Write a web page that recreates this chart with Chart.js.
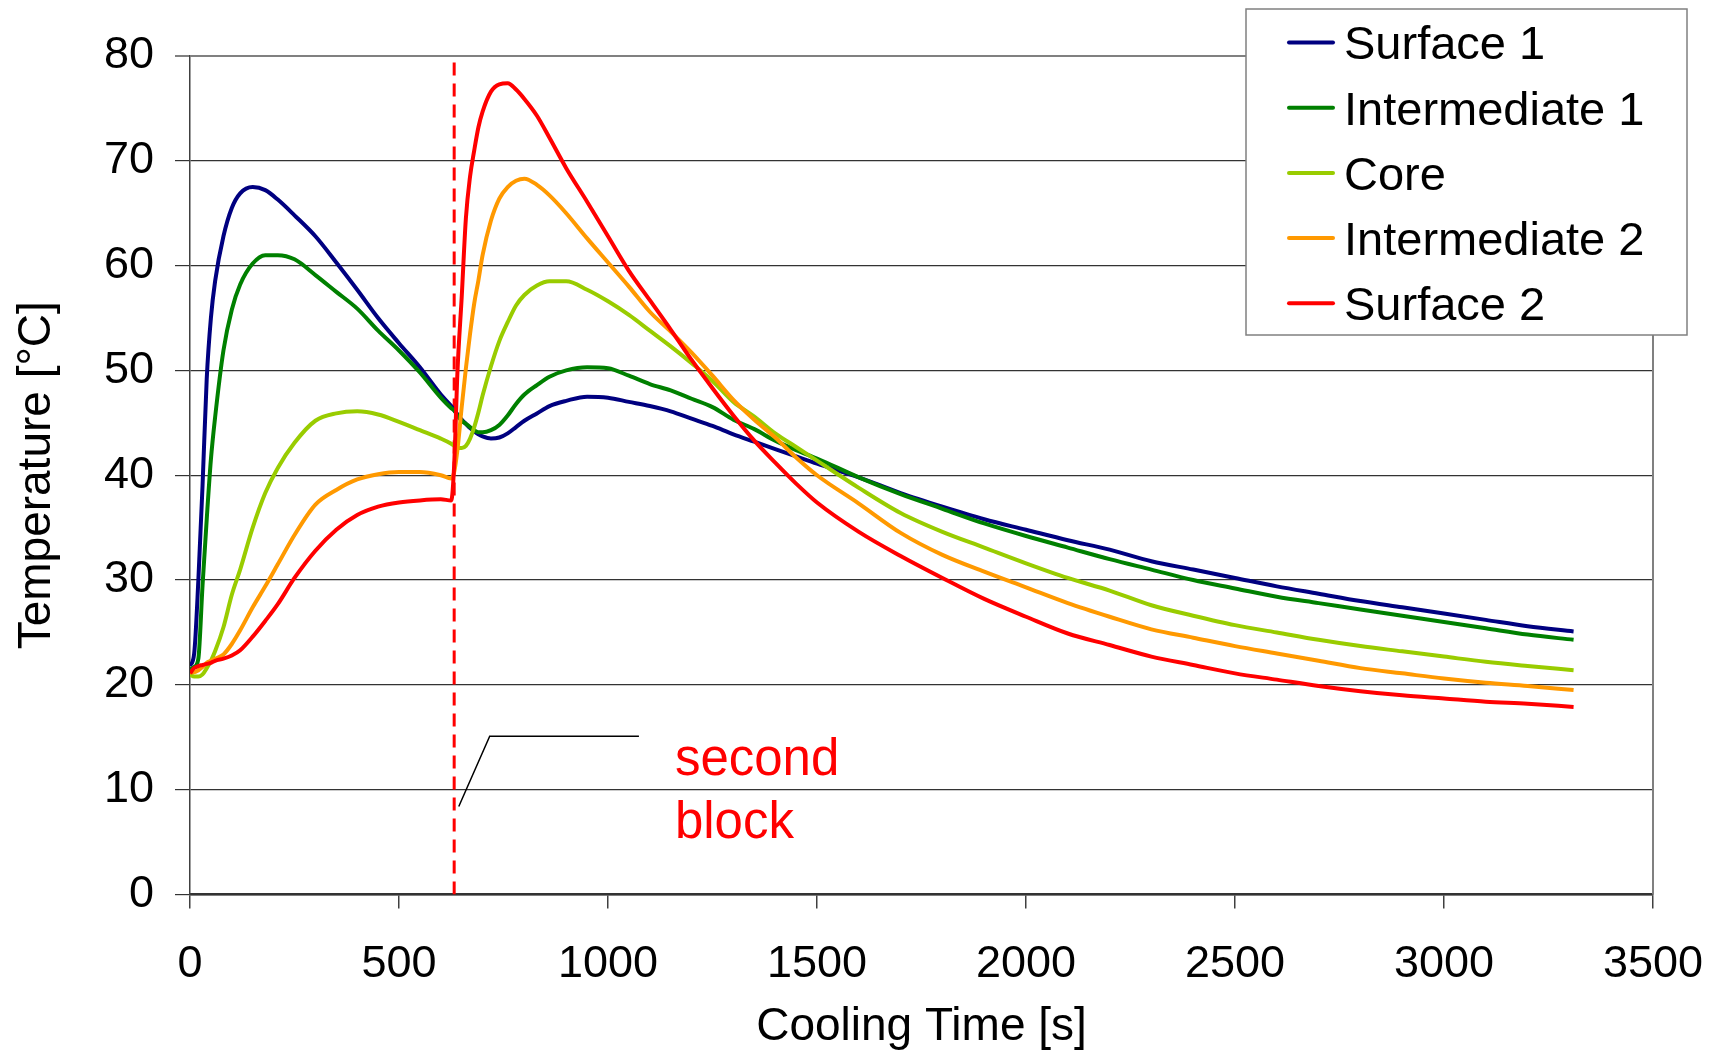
<!DOCTYPE html>
<html>
<head>
<meta charset="utf-8">
<script src="https://cdn.jsdelivr.net/npm/chart.js@4.4.6/dist/chart.umd.min.js"></script>
<style>
  html, body { margin: 0; padding: 0; background: #fff; }
  #chart { display: block; }
</style>
</head>
<body>
<canvas id="chart" width="1721" height="1050"></canvas>
<script>
// ---------------------------------------------------------------------------
// Data (time in s, temperature in °C)
// ---------------------------------------------------------------------------
const times = [0, 10, 20, 30, 40, 50, 60, 80, 100, 120, 150, 180, 210, 250,
  300, 350, 400, 450, 500, 550, 600, 625, 632, 640, 650, 660, 670, 680, 690, 700,
  720, 740, 760, 780, 800, 830, 860, 900, 950, 1000, 1050, 1100, 1150, 1200, 1250,
  1300, 1350, 1400, 1450, 1500, 1600, 1700, 1800, 1900, 2000, 2100, 2200, 2300,
  2400, 2500, 2600, 2700, 2800, 2900, 3000, 3100, 3200, 3310]

const surface1 = [21.8, 23, 30, 39, 49.2, 55, 58.5, 62.8, 65.5, 66.9, 67.5, 67.2, 66.3, 64.8,
  62.8, 60.3, 57.7, 55.0, 52.6, 50.3, 47.7, 46.6, 46.2, 45.8, 45.3, 44.9, 44.5, 44.2, 43.9, 43.7,
  43.5, 43.6, 44.0, 44.6, 45.2, 45.9, 46.6, 47.1, 47.5, 47.4, 47.0, 46.6, 46.1, 45.4, 44.7,
  43.9, 43.2, 42.5, 41.8, 41.1, 39.8, 38.3, 37.0, 35.8, 34.8, 33.8, 32.9, 31.8,
  31.0, 30.2, 29.4, 28.7, 28.0, 27.4, 26.8, 26.2, 25.6, 25.1]

const intermediate1 = [21.5, 21.7, 22.5, 29.5, 35.8, 41.5, 45.5, 51.9, 55.8, 58.2, 60.2, 61.0, 61.0, 60.6,
  59.1, 57.5, 55.9, 53.8, 51.9, 49.8, 47.4, 46.4, 46.2, 45.7, 45.2, 44.9, 44.6, 44.3, 44.1, 44.1,
  44.3, 44.8, 45.7, 46.8, 47.7, 48.6, 49.4, 50.0, 50.3, 50.2, 49.5, 48.7, 48.1, 47.3, 46.5,
  45.3, 44.4, 43.3, 42.4, 41.6, 39.8, 38.2, 36.8, 35.4, 34.2, 33.1, 32.0, 31.0,
  30.0, 29.2, 28.4, 27.8, 27.2, 26.6, 26.0, 25.4, 24.8, 24.3]

const core = [21.0, 20.8, 20.8, 21.0, 21.6, 22.3, 23.2, 25.5, 28.6, 31.0, 35.0, 38.3, 40.7, 43.1,
  45.2, 45.9, 46.1, 45.8, 45.1, 44.3, 43.5, 43.0, 42.8, 42.6, 42.6, 42.8, 43.5, 44.6, 46.0, 47.6,
  50.4, 52.8, 54.6, 56.2, 57.2, 58.1, 58.5, 58.5, 57.7, 56.6, 55.3, 53.8, 52.3, 50.7, 49.0,
  47.0, 45.6, 44.0, 42.7, 41.4, 38.8, 36.4, 34.6, 33.1, 31.6, 30.2, 29.0, 27.6,
  26.6, 25.7, 25.0, 24.3, 23.7, 23.2, 22.7, 22.2, 21.8, 21.4]

const intermediate2 = [21.2, 21.2, 21.4, 21.7, 22.1, 22.3, 22.5, 22.9, 23.9, 25.2, 27.4, 29.4, 31.5, 34.3,
  37.2, 38.6, 39.6, 40.1, 40.3, 40.3, 40.0, 39.7, 40.3, 42.5, 46.5, 50.2, 53.5, 56.4, 58.6, 61.0,
  64.3, 66.4, 67.5, 68.1, 68.3, 67.7, 66.7, 65.0, 62.6, 60.3, 58.0, 55.6, 53.7, 51.7, 49.5,
  47.2, 45.3, 43.6, 41.7, 40.0, 37.3, 34.5, 32.4, 30.8, 29.3, 27.8, 26.5, 25.3,
  24.5, 23.7, 23.0, 22.3, 21.6, 21.1, 20.6, 20.2, 19.9, 19.5]

const surface2 = [21.1, 21.6, 21.8, 21.9, 22.0, 22.1, 22.3, 22.5, 22.8, 23.3, 24.6, 26.1, 27.7, 30.2,
  32.8, 34.8, 36.2, 37.0, 37.4, 37.6, 37.7, 37.6, 41.0, 50.0, 57.0, 64.5, 68.5, 71.0, 73.2, 74.7,
  76.6, 77.3, 77.4, 76.8, 75.9, 74.3, 72.2, 69.3, 66.1, 62.8, 59.5, 56.7, 53.9, 51.0, 48.3,
  45.7, 43.3, 41.2, 39.2, 37.4, 34.6, 32.3, 30.2, 28.2, 26.5, 24.9, 23.8, 22.7,
  21.9, 21.1, 20.5, 19.9, 19.4, 19.0, 18.7, 18.4, 18.2, 17.9]

const seriesNames = ['Surface 1', 'Intermediate 1', 'Core', 'Intermediate 2', 'Surface 2']
const seriesColors = ['#000080', '#008000', '#99CC00', '#FF9900', '#FF0000']

// second block marker + annotation
const secondBlockTime = 632
const calloutX = [643, 717, 1074]
const calloutY = [8.4, 15.1, 15.1]
const calloutText = ['second', 'block']
const calloutTextPos = { x: 1160, y: [11.4, 5.4] }

const xTicks = { min: 0, max: 3500, step: 500 }
const yTicks = { min: 0, max: 80, step: 10 }

// ---------------------------------------------------------------------------
const FONT = '"Liberation Sans", Arial, sans-serif'
const allSeries = [surface1, intermediate1, core, intermediate2, surface2]

const curveSets = allSeries.map((vals, i) => ({
  label: seriesNames[i],
  data: times.map((t, k) => ({ x: t, y: vals[k] })),
  borderColor: seriesColors[i],
  backgroundColor: seriesColors[i],
  borderWidth: 4,
  pointRadius: 0,
  cubicInterpolationMode: 'monotone',
  order: 5 - i
}))

const markerSet = {
  label: '_marker',
  data: [{ x: secondBlockTime, y: yTicks.min }, { x: secondBlockTime, y: yTicks.max }],
  borderColor: '#FF0000',
  borderWidth: 3,
  borderDash: [13, 8],
  pointRadius: 0,
  order: 10
}

const calloutSet = {
  label: '_callout',
  data: calloutX.map((x, i) => ({ x, y: calloutY[i] })),
  borderColor: '#000',
  borderWidth: 1.5,
  pointRadius: 0,
  tension: 0,
  order: 9
}

// frame + legend + annotation text
const decorations = {
  id: 'decorations',
  beforeDatasetsDraw (chart) {
    const { ctx, chartArea: a } = chart
    ctx.save()
    ctx.strokeStyle = '#808080'
    ctx.lineWidth = 2
    ctx.beginPath()
    ctx.moveTo(a.right, a.top)
    ctx.lineTo(a.right, a.bottom)
    ctx.stroke()
    ctx.restore()
  },
  afterDraw (chart) {
    const { ctx, scales } = chart
    ctx.save()
    // annotation text
    ctx.fillStyle = '#FF0000'
    ctx.font = '51px ' + FONT
    ctx.textBaseline = 'alphabetic'
    ctx.textAlign = 'left'
    calloutText.forEach((s, i) => {
      ctx.fillText(s, scales.x.getPixelForValue(calloutTextPos.x), scales.y.getPixelForValue(calloutTextPos.y[i]))
    })
    // legend box
    const bx = 1246, by = 9, bw = 441, bh = 326
    ctx.fillStyle = '#fff'
    ctx.fillRect(bx, by, bw, bh)
    ctx.strokeStyle = '#808080'
    ctx.lineWidth = 1.5
    ctx.strokeRect(bx, by, bw, bh)
    ctx.font = '47px ' + FONT
    ctx.textBaseline = 'middle'
    ctx.lineCap = 'round'
    curveSets.forEach((ds, i) => {
      const y = 42.5 + i * 65.2
      ctx.strokeStyle = ds.borderColor
      ctx.lineWidth = 4
      ctx.beginPath()
      ctx.moveTo(1289, y)
      ctx.lineTo(1333, y)
      ctx.stroke()
      ctx.fillStyle = '#000'
      ctx.fillText(ds.label, 1344, y + 4)
    })
    ctx.restore()
  }
}

new Chart(document.getElementById('chart'), {
  type: 'line',
  data: { datasets: [...curveSets, markerSet, calloutSet] },
  plugins: [decorations],
  options: {
    responsive: false,
    animation: false,
    devicePixelRatio: 1,
    layout: { padding: { top: 56, right: 68, left: 0, bottom: 0 } },
    plugins: { legend: { display: false }, tooltip: { enabled: false } },
    scales: {
      x: {
        type: 'linear',
        min: xTicks.min,
        max: xTicks.max,
        afterFit: s => { s.height = 155.5; s.paddingLeft = 0; s.paddingRight = 0 },
        ticks: { stepSize: xTicks.step, color: '#000', font: { family: FONT, size: 45 }, padding: 29, maxRotation: 0, callback: v => String(v) },
        grid: { drawOnChartArea: false, drawTicks: true, tickLength: 14, color: '#404040', lineWidth: 1.5 },
        border: { display: true, color: '#333', width: 2.5 },
        title: { display: true, text: 'Cooling Time [s]', color: '#000', font: { family: FONT, size: 46, lineHeight: 1.0 }, padding: { top: 0, bottom: 0 } }
      },
      y: {
        min: yTicks.min,
        max: yTicks.max,
        afterFit: s => { s.width = 190; s.paddingTop = 0; s.paddingBottom = 0 },
        ticks: { stepSize: yTicks.step, color: '#000', font: { family: FONT, size: 45 }, padding: 21 },
        grid: {
          color: c => (c.tick && c.tick.value === yTicks.max) ? '#808080' : '#333',
          lineWidth: c => (c.tick && c.tick.value === yTicks.max) ? 2 : 1.2,
          tickLength: 15
        },
        border: { display: true, color: '#404040', width: 1.5 },
        title: { display: true, text: 'Temperature [°C]', color: '#000', font: { family: FONT, size: 46 }, padding: { top: 10, bottom: 0 } }
      }
    }
  }
})
</script>
</body>
</html>
